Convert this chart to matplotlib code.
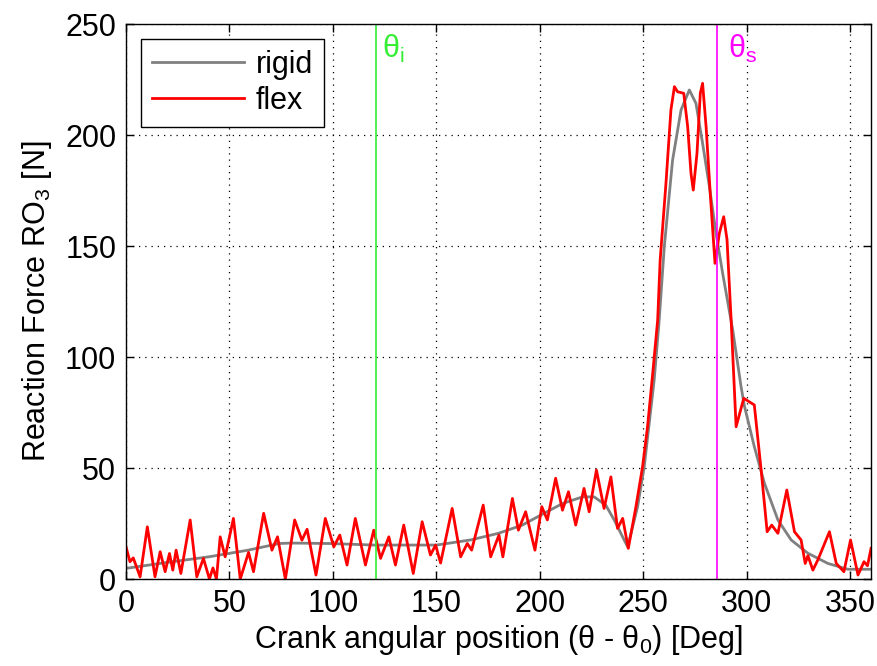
"""
Reaction force RO3 vs crank angle, rigid vs flexible model.
"""

import matplotlib
matplotlib.use("Agg")
import matplotlib.pyplot as plt
import numpy as np

# Rigid model
rigid_deg = [0, 20, 40, 59, 74, 80, 98, 120, 150, 166.5, 180, 191.5, 200.4,
             210.9, 220.6, 226.2, 231.8, 235.9, 240.7, 242.4, 247.2, 250.4,
             255.2, 257.5, 260.1, 264.1, 268.2, 272.2, 275.4, 278.6, 281.9,
             285.1, 288.3, 293.2, 297.2, 298.8, 303.6, 308.5, 315, 321.4,
             329.5, 339.2, 348.8, 360]
rigid_force = [4.8, 7.5, 10, 13, 16, 16.2, 16, 15.3, 15.3, 17.6, 20.6, 24.3,
               28.8, 34, 37, 37, 33.3, 26.6, 17.6, 14.5, 32.6, 50.6, 89.6,
               115, 149.7, 188.7, 211.3, 220.3, 214.3, 196.3, 176.7, 155.7,
               137.7, 112, 86.6, 78, 59.6, 43.1, 26.6, 17.6, 11.6, 7, 4.4, 4.4]

# Flexible model
flex_deg = [0, 1.9, 3.5, 6.8, 10.3, 14, 16.5, 18.9, 21, 22.6, 24.2, 26.5, 31,
            34.2, 37.4, 40.3, 42, 43.7, 45.5, 47.9, 51.9, 55.2, 59.2, 61.6,
            66.5, 70.5, 73.2, 77, 81.5, 85, 87.5, 91.8, 96.3, 100.4, 103.3,
            106.8, 110.8, 115.7, 119.7, 123, 127, 130.2, 134.2, 138.8, 143.1,
            147.1, 149.6, 152, 157.6, 161.7, 164.9, 167, 172.6, 176.2, 180.2,
            182.1, 186.7, 189.6, 193.1, 197.6, 200.9, 203.6, 207.6, 210.9,
            213.8, 217.3, 221.3, 223.8, 227.3, 231, 234.3, 237.5, 240, 242.7,
            246.4, 249.6, 252, 254.5, 256.9, 258.1, 260.9, 263.3, 265, 266.5,
            269.5, 271.4, 273, 274.1, 275.9, 277.5, 278.6, 280.3, 282.3,
            284.6, 286.7, 288.8, 290.4, 292.4, 294.8, 298.5, 303.6, 306.9,
            309.8, 312, 315, 319.3, 323, 326.2, 328.2, 329.5, 331.9, 334.3,
            339.9, 343.2, 346.9, 350.1, 353.7, 356.6, 358.3, 360]
flex_force = [14.5, 7.8, 9.5, 1, 23.5, 1, 12.3, 3.3, 11.5, 4, 13, 2.5, 26.6,
              1, 9.3, 0, 5, 0, 19, 10, 27.3, 0, 12, 3.3, 29.6, 13, 19, 0,
              26.6, 17.5, 22.4, 1.8, 27.3, 14.5, 19.8, 6.3, 27.3, 6.3, 22,
              9.3, 19, 6.3, 24.3, 2.5, 25.8, 10.8, 15.3, 7.2, 31.8, 10, 16,
              13, 33.3, 10, 19.8, 10, 36.3, 22, 30.3, 13, 32.6, 26.6, 45.4,
              31, 39.3, 24.3, 40.8, 30.3, 49.1, 31.8, 46, 22.8, 27.3, 13.8,
              32.6, 50.6, 68.6, 92.6, 116.7, 143.7, 178.2, 211.3, 221.8,
              219.5, 218.8, 203.7, 182.7, 175.2, 191.8, 218.8, 223.3, 203.7,
              173.7, 142.2, 155.7, 163.2, 153, 116.7, 68.6, 81.4, 78.4, 49.1,
              21.3, 24.3, 20.6, 40.1, 21.3, 17.6, 7, 10.5, 4, 8.6, 21.3, 7,
              3.3, 17.6, 1.8, 7.8, 6, 13.8]

theta_i = 121
theta_s = 285.5

x_ticks = [0, 50, 100, 150, 200, 250, 300, 350]
y_ticks = [0, 50, 100, 150, 200, 250]


def main() -> None:
    plt.rcParams["font.family"] = ["Liberation Sans", "DejaVu Sans"]
    plt.rcParams["mathtext.fontset"] = "custom"
    plt.rcParams["mathtext.rm"] = "Liberation Sans"
    plt.rcParams["mathtext.default"] = "regular"
    fs = 22

    fig = plt.figure(figsize=(8.77, 6.66), dpi=100)
    ax = fig.add_axes([0.1437, 0.1306, 0.8495, 0.8333])

    ax.plot(rigid_deg, rigid_force, color="#808080", lw=2.0, label="rigid")
    ax.plot(flex_deg, flex_force, color="red", lw=2.0, label="flex")
    ax.axvline(theta_i, color="#33ee33", lw=1.2)
    ax.axvline(theta_s, color="magenta", lw=1.2)

    ax.text(theta_i + 2.5, 246, "θ$_i$", color="#33ee33", fontsize=fs,
            ha="left", va="top")
    ax.text(theta_s + 5.5, 246, "θ$_s$", color="magenta", fontsize=fs,
            ha="left", va="top")

    ax.set_xlim(0, 360)
    ax.set_ylim(0, 250)
    ax.set_xticks(x_ticks)
    ax.set_yticks(y_ticks)
    ax.tick_params(direction="in", top=True, right=True, length=6,
                   width=1, labelsize=fs, pad=7)
    ax.grid(True, color="black", linestyle=(0, (1, 4)), linewidth=0.9)
    for sp in ax.spines.values():
        sp.set_linewidth(1)

    ax.set_xlabel("Crank angular position (θ - θ$_0$) [Deg]", fontsize=fs,
                  labelpad=3)
    ax.set_ylabel("Reaction Force RO$_3$ [N]", fontsize=fs, labelpad=8)

    leg = ax.legend(loc="upper left", fontsize=fs, fancybox=False,
                    framealpha=1, edgecolor="black", handlelength=3.0,
                    handletextpad=0.4, labelspacing=0.2, borderpad=0.35,
                    borderaxespad=0.5)
    leg.get_frame().set_linewidth(1)

    fig.savefig("out.png", dpi=100)
    plt.close()


if __name__ == "__main__":
    main()
